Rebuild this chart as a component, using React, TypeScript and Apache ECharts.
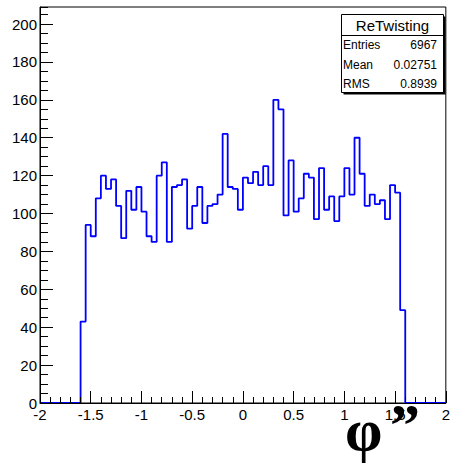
import React, { useEffect, useRef } from "react";
import * as echarts from "echarts";

// Histogram binning (ROOT TH1): 80 bins from -2 to 2
const X_MIN = -2;
const X_MAX = 2;
const BIN_WIDTH = 0.05;

// Bin contents, left to right
const counts: number[] = [
  0, 0, 0, 0, 0, 0, 0, 0,
  43, 94, 88, 108, 120, 113, 118, 104, 87, 112,
  102, 114, 101, 88, 85, 120, 127, 85, 114, 115,
  118, 92, 104, 114, 95, 104, 105, 110, 142, 114,
  113, 102, 119, 116, 122, 115, 125, 115, 160, 155,
  99, 128, 101, 108, 121, 119, 97, 124, 102, 109,
  96, 109, 124, 110, 140, 121, 104, 110, 105, 107,
  97, 115, 111, 49,
  0, 0, 0, 0, 0, 0, 0, 0,
];

const Y_MAX = 209;
const xMajorInterval = 0.5;
const xMinorInterval = 0.1;
const yMajorInterval = 20;
const yMinorInterval = 5;

const statsTitle = "ReTwisting";
const statsLabels = ["Entries", "Mean", "RMS"];
const statsValues = ["6967", "0.02751", "0.8939"];
const axisTitle = "φ";
const axisTitleMarks = "”";

const SANS = "'Liberation Sans', Arial, sans-serif";
const SERIF = "'Liberation Serif', 'Times New Roman', serif";

export default function App() {
  const ref = useRef<HTMLDivElement>(null);

  useEffect(() => {
    if (!ref.current) return;
    const chart = echarts.init(ref.current, undefined, { renderer: "svg" });

    const stepData: [number, number][] = counts.map((c, i) => [
      +(X_MIN + i * BIN_WIDTH).toFixed(4),
      c,
    ]);
    stepData.push([X_MAX, 0]);

    const statsGraphics: any[] = [];
    const boxX = 341.5;
    const boxY = 14.5;
    const boxW = 102;
    const boxH = 78;
    statsGraphics.push({
      type: "rect",
      shape: { x: boxX + 2, y: boxY + 2, width: boxW, height: boxH },
      style: { fill: "#000" },
      z: 100,
    });
    statsGraphics.push({
      type: "rect",
      shape: { x: boxX, y: boxY, width: boxW, height: boxH },
      style: { fill: "#fff", stroke: "#000", lineWidth: 1 },
      z: 101,
    });
    statsGraphics.push({
      type: "line",
      shape: { x1: boxX, y1: 35.5, x2: boxX + boxW, y2: 35.5 },
      style: { stroke: "#000", lineWidth: 1 },
      z: 102,
    });
    statsGraphics.push({
      type: "text",
      x: boxX + boxW / 2,
      y: 25,
      style: {
        text: statsTitle,
        fontFamily: SANS,
        fontSize: 15,
        fill: "#000",
        align: "center",
        verticalAlign: "middle",
      },
      z: 103,
    });
    const rowY = [45, 64.5, 83.5];
    statsLabels.forEach((lab, i) => {
      statsGraphics.push({
        type: "text",
        x: 343,
        y: rowY[i],
        style: {
          text: lab,
          fontFamily: SANS,
          fontSize: 12,
          fill: "#000",
          align: "left",
          verticalAlign: "middle",
        },
        z: 103,
      });
      statsGraphics.push({
        type: "text",
        x: 437,
        y: rowY[i],
        style: {
          text: statsValues[i],
          fontFamily: SANS,
          fontSize: 12,
          fill: "#000",
          align: "right",
          verticalAlign: "middle",
        },
        z: 103,
      });
    });

    const titleGraphics: any[] = [
      {
        type: "text",
        x: 345,
        y: 430,
        style: {
          text: axisTitle,
          fontFamily: SERIF,
          fontWeight: "bold",
          fontSize: 60,
          fill: "#000",
          align: "left",
          verticalAlign: "middle",
        },
        z: 103,
      },
      {
        type: "text",
        x: 390,
        y: 425,
        style: {
          text: axisTitleMarks,
          fontFamily: SERIF,
          fontWeight: "bold",
          fontSize: 60,
          fill: "#000",
          align: "left",
          verticalAlign: "middle",
        },
        z: 103,
      },
    ];

    const grid = { left: 40, right: 6, top: 7, bottom: 60 };

    chart.setOption({
      animation: false,
      backgroundColor: "#fff",
      grid: {
        ...grid,
        show: true,
        borderColor: "#000",
        borderWidth: 1,
        backgroundColor: "transparent",
      },
      xAxis: [
        {
          type: "value",
          position: "bottom",
          min: X_MIN,
          max: X_MAX,
          interval: xMajorInterval,
          z: 5,
          axisLine: { show: true, onZero: false, lineStyle: { color: "#000", width: 1 } },
          axisTick: { show: true, inside: true, length: 12, lineStyle: { color: "#000", width: 1 } },
          axisLabel: {
            show: true,
            color: "#000",
            fontFamily: SANS,
            fontSize: 15,
            margin: 4,
          },
          splitLine: { show: false },
        },
        {
          type: "value",
          position: "bottom",
          min: X_MIN,
          max: X_MAX,
          interval: xMinorInterval,
          z: 5,
          axisLine: { show: false, onZero: false },
          axisTick: { show: true, inside: true, length: 6, lineStyle: { color: "#000", width: 1 } },
          axisLabel: { show: false },
          splitLine: { show: false },
        },
      ],
      yAxis: [
        {
          type: "value",
          position: "left",
          min: 0,
          max: Y_MAX,
          interval: yMajorInterval,
          z: 5,
          axisLine: { show: true, onZero: false, lineStyle: { color: "#000", width: 1 } },
          axisTick: { show: true, inside: true, length: 13, lineStyle: { color: "#000", width: 1 } },
          axisLabel: {
            show: true,
            color: "#000",
            fontFamily: SANS,
            fontSize: 15,
            margin: 3,
            showMaxLabel: false,
          },
          splitLine: { show: false },
        },
        {
          type: "value",
          position: "left",
          min: 0,
          max: Y_MAX,
          interval: yMinorInterval,
          z: 5,
          axisLine: { show: false, onZero: false },
          axisTick: { show: true, inside: true, length: 8, lineStyle: { color: "#000", width: 1 } },
          axisLabel: { show: false },
          splitLine: { show: false },
        },
      ],
      series: [
        {
          type: "line",
          xAxisIndex: 0,
          yAxisIndex: 0,
          step: "end",
          data: stepData,
          showSymbol: false,
          symbol: "none",
          lineStyle: { color: "#0000ff", width: 1.8 },
          z: 2,
        },
      ],
      graphic: [...statsGraphics, ...titleGraphics],
    });

    return () => chart.dispose();
  }, []);

  return (
    <div
      ref={ref}
      style={{ position: "fixed", left: 0, top: 0, width: 453, height: 463 }}
    />
  );
}
